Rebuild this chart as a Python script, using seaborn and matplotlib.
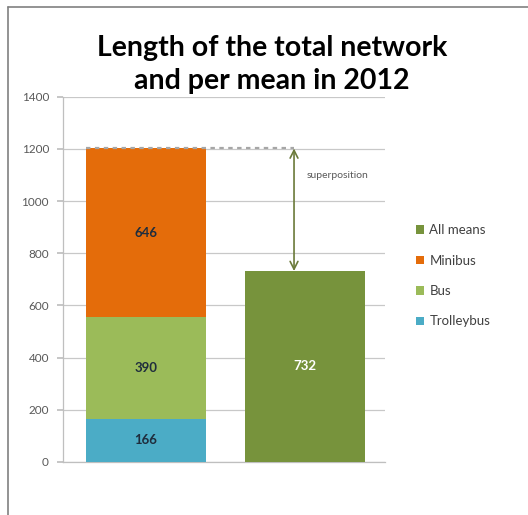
import matplotlib
matplotlib.use("Agg")
import matplotlib.pyplot as plt
from matplotlib.lines import Line2D
import seaborn as sns
import pandas as pd

# Network length (km) by mode, 2012
columns = ["per mean", "all means"]
modes = ["Trolleybus", "Bus", "Minibus"]
mode_lengths = [166, 390, 646]
all_means = 732
yticks = [0, 200, 400, 600, 800, 1000, 1200, 1400]

colors = {
    "Trolleybus": "#4BACC6",
    "Bus": "#9BBB59",
    "Minibus": "#E46C0A",
    "All means": "#77933C",
}

sns.set_theme(style="white")
plt.rcParams["font.family"] = ["Lato", "DejaVu Sans"]

fig = plt.figure(figsize=(5.28, 5.15), dpi=100)
ax = fig.add_axes([0.119, 0.103, 0.61, 0.709])

# cumulative tops for the stacked column, drawn back to front
tops = []
acc = 0
for v in mode_lengths:
    acc += v
    tops.append(acc)
total = tops[-1]

bar_w = 0.755
for mode, top in reversed(list(zip(modes, tops))):
    df = pd.DataFrame({"col": [columns[0]], "value": [top]})
    sns.barplot(data=df, x="col", y="value", order=columns, color=colors[mode],
                width=bar_w, saturation=1, ax=ax, zorder=3, label=mode,
                linewidth=0)
df_all = pd.DataFrame({"col": [columns[1]], "value": [all_means]})
sns.barplot(data=df_all, x="col", y="value", order=columns, color=colors["All means"],
            width=bar_w, saturation=1, ax=ax, zorder=3, label="All means",
            linewidth=0)

# value labels
bottom = 0
for mode, v in zip(modes, mode_lengths):
    ax.text(0, bottom + v / 2, f"{v}", ha="center", va="center",
            fontsize=9.5, fontweight="bold", color="#1F2D3D", zorder=5)
    bottom += v
ax.text(1, all_means / 2, f"{all_means}", ha="center", va="center",
        fontsize=9.5, fontweight="bold", color="white", zorder=5)

# gap between the stacked total and the combined network
arrow_x = 0.93
ax.plot([0 - bar_w / 2, arrow_x], [total, total], ls=(0, (2, 2)), color="#A6A6A6",
        lw=1.6, zorder=4)
ax.annotate("", xy=(arrow_x, all_means), xytext=(arrow_x, total),
            arrowprops=dict(arrowstyle="<->", color="#6B7A3A", lw=1.2,
                            mutation_scale=14, shrinkA=0, shrinkB=0), zorder=4)
ax.text(arrow_x + 0.08, 1100, "superposition", ha="left", va="center",
        fontsize=7.5, color="#595959")

ax.set_ylim(0, 1400)
ax.set_xlim(-0.52, 1.5)
ax.set_yticks(yticks)
ax.set_yticklabels([str(t) for t in yticks], fontsize=8.5, color="#595959")
ax.set_xticks([])
ax.set_xlabel("")
ax.set_ylabel("")
ax.yaxis.grid(True, color="#C8C8C8", lw=0.9, zorder=0)
ax.set_axisbelow(True)
for s in ["top", "right"]:
    ax.spines[s].set_visible(False)
for s in ["left", "bottom"]:
    ax.spines[s].set_color("#BFBFBF")
    ax.spines[s].set_linewidth(0.9)
ax.tick_params(axis="y", left=True, length=4, color="#BFBFBF", pad=6)

# legend in custom order
handles, labels = ax.get_legend_handles_labels()
lookup = dict(zip(labels, handles))
order = ["All means", "Minibus", "Bus", "Trolleybus"]
ax.legend([lookup[k] for k in order], order, loc="center left",
          bbox_to_anchor=(1.06, 0.51), frameon=False, fontsize=9.5,
          handlelength=0.6, handleheight=0.6, handletextpad=0.4,
          labelspacing=1.4, labelcolor="#404040")

fig.text(0.515, 0.875, "Length of the total network\nand per mean in 2012",
         ha="center", va="center", fontsize=20.5, fontweight="bold",
         color="black", linespacing=1.3)

# chart area border
fig.add_artist(Line2D([8 / 528, 8 / 528], [0, 1 - 7 / 515], transform=fig.transFigure,
                      color="#808080", lw=1.2))
fig.add_artist(Line2D([8 / 528, 1], [1 - 7 / 515, 1 - 7 / 515], transform=fig.transFigure,
                      color="#808080", lw=1.2))

fig.savefig("out.png", dpi=100, facecolor="white")
